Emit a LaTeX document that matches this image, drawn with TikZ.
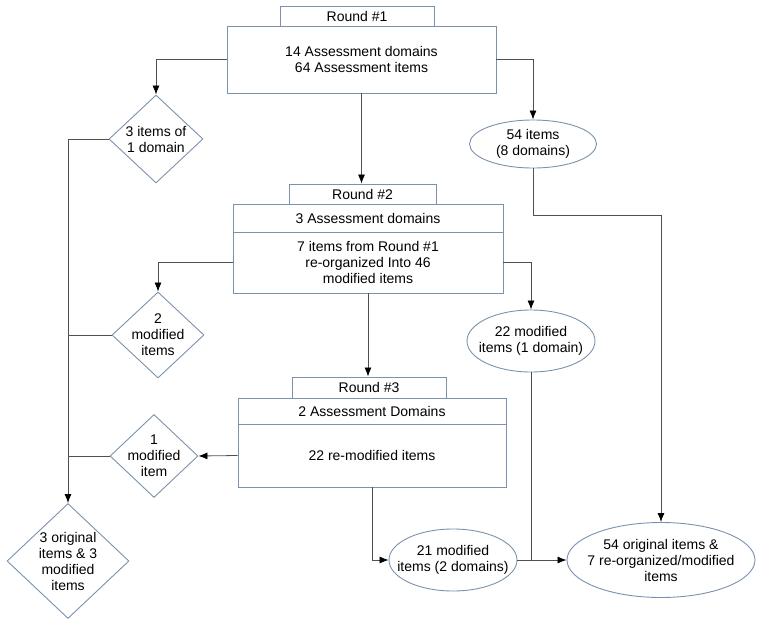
\documentclass[tikz,border=0pt]{standalone}
\usepackage{fontspec}
\setmainfont{Liberation Sans}
\usetikzlibrary{shapes.geometric,arrows.meta}
\definecolor{shapeline}{RGB}{122,146,172}
\definecolor{conn}{RGB}{80,80,80}
\begin{document}
\begin{tikzpicture}[x=1pt,y=-1pt,
  every node/.style={font=\fontsize{14}{16}\selectfont, align=center, inner sep=0pt},
  boxx/.style={draw=shapeline, line width=0.9pt, rectangle, fill=white},
  dia/.style={draw=shapeline, line width=0.9pt, diamond, aspect=1},
  ell/.style={draw=shapeline, line width=0.9pt, ellipse},
  txt/.style={label={[align=center]center:#1}},
  conline/.style={draw=conn, line width=0.8pt},
  arr/.style={conline, -{Latex[length=9pt,width=7pt,color=black]}}]
\useasboundingbox (0,0) rectangle (760,624);
% Round 1
\node[boxx, minimum width=154, minimum height=20] (r1tab) at (357,16) {Round \#1};
\node[boxx, minimum width=269, minimum height=67] (r1box) at (361.5,59.5) {14 Assessment domains\\64 Assessment items};
% Round 2
\node[boxx, minimum width=147, minimum height=20] (r2tab) at (362.5,194) {Round \#2};
\node[boxx, minimum width=270, minimum height=28] (r2top) at (368,218) {3 Assessment domains};
\node[boxx, minimum width=270, minimum height=61] (r2bot) at (368,262.5) {7 items from Round \#1\\re-organized Into 46\\modified items};
% Round 3
\node[boxx, minimum width=154, minimum height=21] (r3tab) at (369,387.5) {Round \#3};
\node[boxx, minimum width=268, minimum height=26] (r3top) at (372,411) {2 Assessment Domains};
\node[boxx, minimum width=268, minimum height=63] (r3bot) at (372,455.5) {22 re-modified items};
% diamonds
\node[dia, minimum width=94, minimum height=88, txt={3 items of\\1 domain}] (d1) at (156,139) {};
\node[dia, minimum width=92, minimum height=86, txt={2\\modified\\items}] (d2) at (158,335) {};
\node[dia, minimum width=88, minimum height=83, txt={1\\modified\\item}] (d3) at (154,456) {};
\node[dia, minimum width=122, minimum height=115, txt={3 original\\items \& 3\\modified\\items}] (d4) at (68,561) {};
% ellipses
\node[ell, minimum width=127, minimum height=48, txt={54 items\\(8 domains)}] (e54) at (533,144) {};
\node[ell, minimum width=128, minimum height=62, txt={22 modified\\items (1 domain)}] (e22) at (531,341) {};
\node[ell, minimum width=128, minimum height=62, txt={21 modified\\items (2 domains)}] (e21) at (453,560) {};
\node[ell, minimum width=188, minimum height=75, txt={54 original items \&\\7 re-organized/modified\\items}] (ef) at (661,560) {};
% connectors
\draw[arr] (r1box.west) -| (d1.north);
\draw[arr] (r1box.south) -- (r1box.south |- r2tab.north);
\draw[arr] (r1box.east) -| (e54.north);
\coordinate (j54) at (533,215);
\draw[arr] (e54.south) -- (j54) -| (ef.north);
\draw[arr] (d1.west) -| (d4.north);
\draw[arr] (r2bot.west) -| (d2.north);
\draw[arr] (r2bot.east) -| (e22.north);
\draw[arr] (r2bot.south) -- (r2bot.south |- r3tab.north);
\draw[conline] (d2.west) -- (d2.west -| d4.north);
\draw[arr] (r3bot.west) -- (d3.east);
\draw[conline] (d3.west) -- (d3.west -| d4.north);
\draw[arr] (r3bot.south) |- (e21.west);
\draw[arr] (e21.east) -- (ef.west);
\draw[conline] (e22.south) -- (e22.south |- e21.east);
\end{tikzpicture}
\end{document}
